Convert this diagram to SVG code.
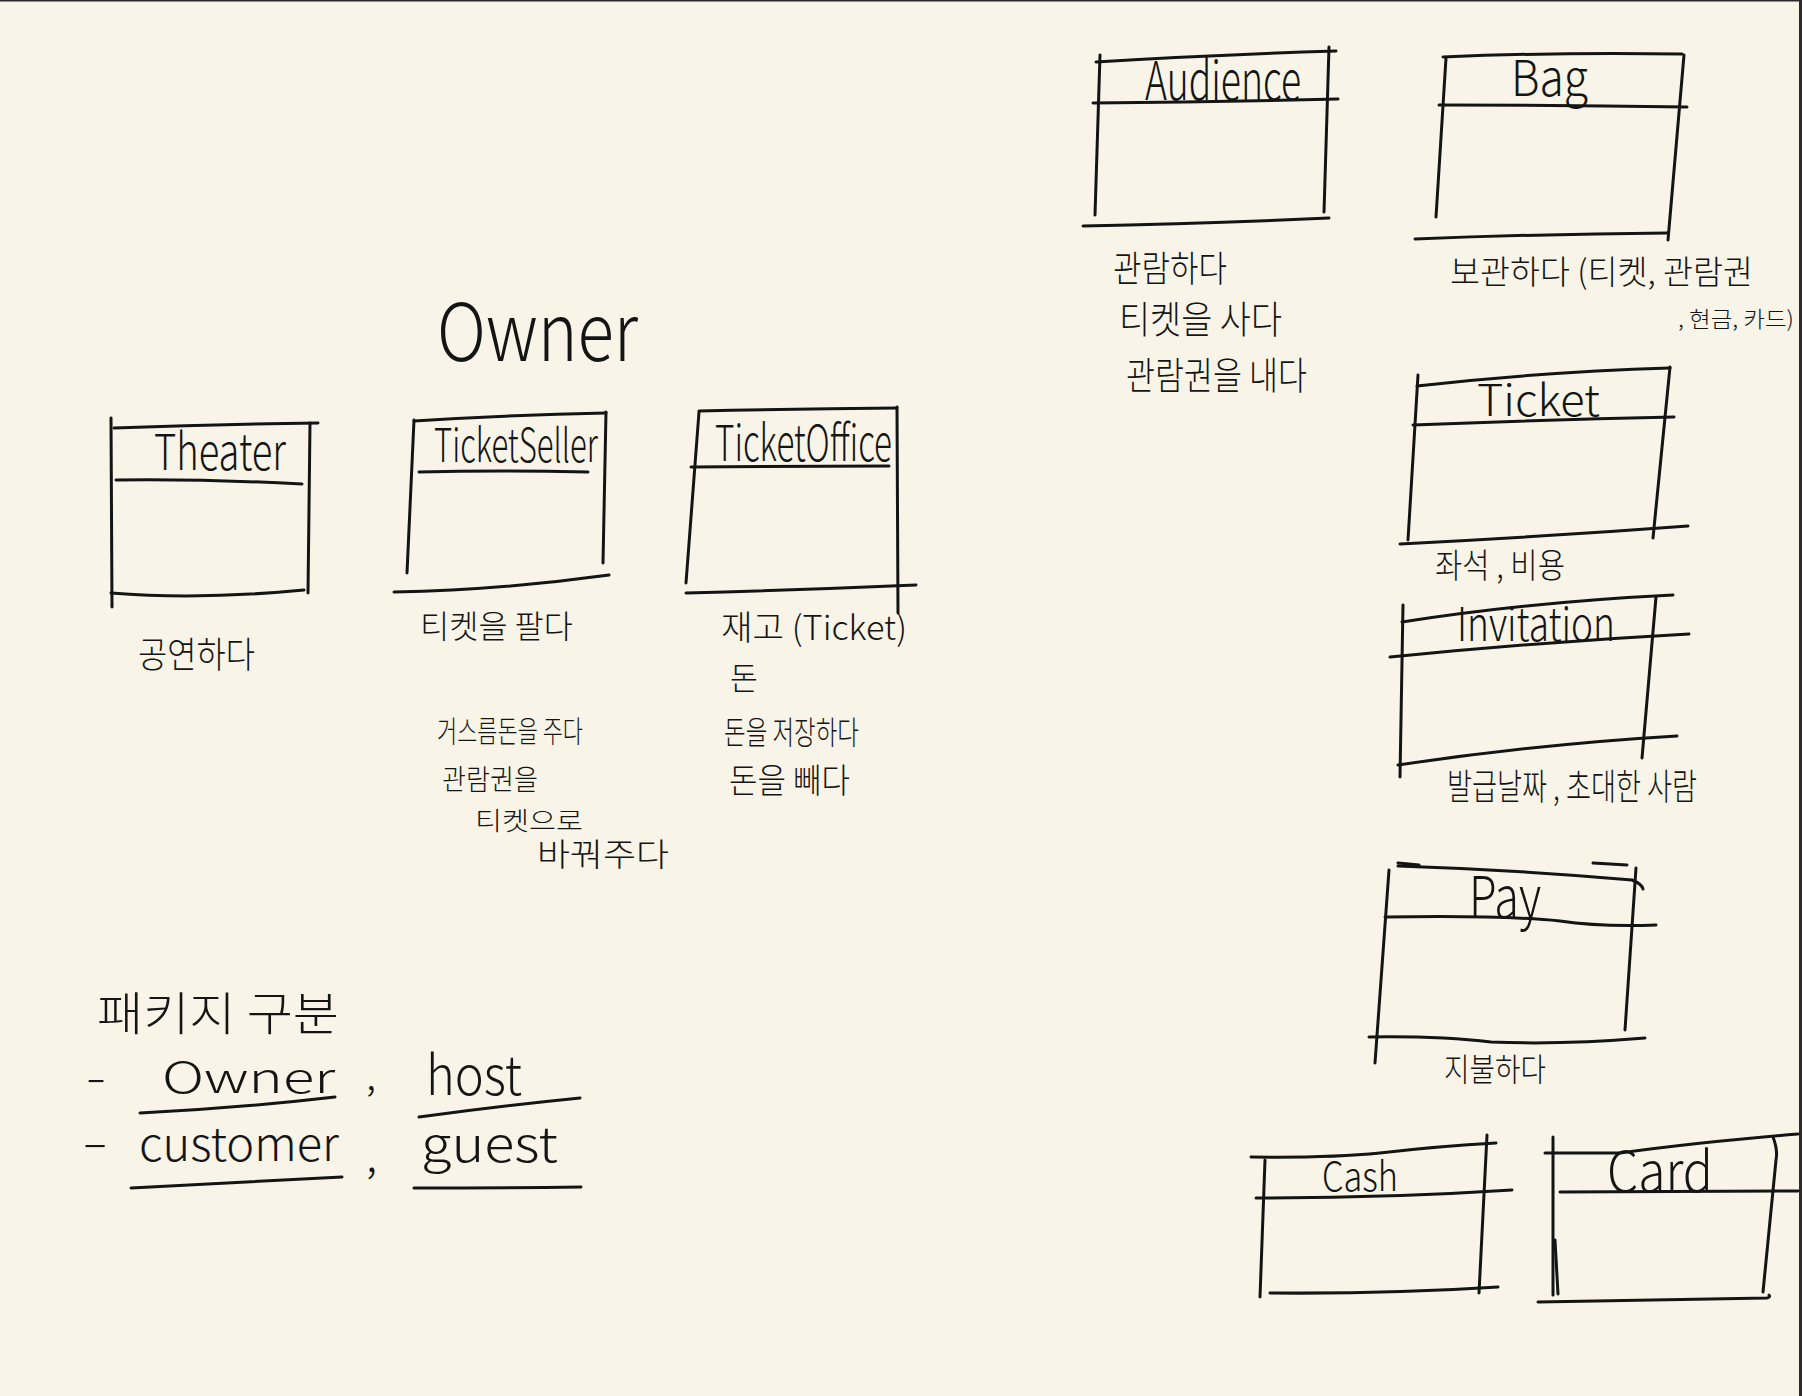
<svg xmlns="http://www.w3.org/2000/svg" width="1802" height="1396" viewBox="0 0 1802 1396">
<style>
.ln{fill:none;stroke:#141414;stroke-width:3;stroke-linecap:round;stroke-linejoin:round}
.t{font-family:"Noto Sans CJK KR","Noto Sans",sans-serif;font-weight:300;fill:#141414}
</style>
<rect x="0" y="0" width="1802" height="1396" fill="#f8f5e8"/>
<rect x="0" y="0" width="1802" height="1.5" fill="#2a2a2a"/>
<rect x="1799" y="0" width="3" height="1396" fill="#2a2a2a"/>

<text class="t" x="437" y="361" font-size="80" textLength="201" lengthAdjust="spacingAndGlyphs">Owner</text>

<g id="theater">
<path class="ln" d="M111 418 L112 607"/>
<path class="ln" d="M114 428 Q215 424 318 423"/>
<path class="ln" d="M310 423 L308 593"/>
<path class="ln" d="M116 480 Q210 479 302 484"/>
<path class="ln" d="M111 593 Q200 600 304 590"/>
<text class="t" x="154" y="470" font-size="50" textLength="132" lengthAdjust="spacingAndGlyphs">Theater</text>
<text class="t" x="138" y="668" font-size="36" textLength="117" lengthAdjust="spacingAndGlyphs">공연하다</text>
</g>

<g id="ticketseller">
<path class="ln" d="M414 420 L407 573"/>
<path class="ln" d="M414 421 Q510 415 606 413"/>
<path class="ln" d="M606 412 L603 563"/>
<path class="ln" d="M419 472 Q500 470 588 472"/>
<path class="ln" d="M394 592 Q500 590 609 575"/>
<text class="t" x="434" y="462" font-size="46" textLength="164" lengthAdjust="spacingAndGlyphs">TicketSeller</text>
<text class="t" x="420" y="638" font-size="32" textLength="153" lengthAdjust="spacingAndGlyphs">티켓을 팔다</text>
<text class="t" x="437" y="742" font-size="30" textLength="146" lengthAdjust="spacingAndGlyphs">거스름돈을 주다</text>
<text class="t" x="442" y="790" font-size="28" textLength="96" lengthAdjust="spacingAndGlyphs">관람권을</text>
<text class="t" x="475" y="830" font-size="25" textLength="108" lengthAdjust="spacingAndGlyphs">티켓으로</text>
<text class="t" x="537" y="866" font-size="32" textLength="132" lengthAdjust="spacingAndGlyphs">바꿔주다</text>
</g>

<g id="ticketoffice">
<path class="ln" d="M699 412 L686 583"/>
<path class="ln" d="M699 411 Q800 409 897 408"/>
<path class="ln" d="M897 407 L898 613"/>
<path class="ln" d="M691 467 Q790 466 889 466"/>
<path class="ln" d="M686 593 Q800 590 916 585"/>
<text class="t" x="715" y="461" font-size="50" textLength="177" lengthAdjust="spacingAndGlyphs">TicketOffice</text>
<text class="t" x="721" y="640" font-size="34" textLength="186" lengthAdjust="spacingAndGlyphs">재고 (Ticket)</text>
<text class="t" x="730" y="690" font-size="32" textLength="28" lengthAdjust="spacingAndGlyphs">돈</text>
<text class="t" x="724" y="744" font-size="32" textLength="135" lengthAdjust="spacingAndGlyphs">돈을 저장하다</text>
<text class="t" x="729" y="793" font-size="34" textLength="121" lengthAdjust="spacingAndGlyphs">돈을 빼다</text>
</g>

<g id="audience">
<path class="ln" d="M1100 55 L1095 215"/>
<path class="ln" d="M1096 62 Q1210 55 1336 51"/>
<path class="ln" d="M1329 47 L1324 212"/>
<path class="ln" d="M1093 103 Q1220 102 1338 99"/>
<path class="ln" d="M1083 226 Q1200 224 1329 218"/>
<text class="t" x="1145" y="100" font-size="54" textLength="156" lengthAdjust="spacingAndGlyphs">Audience</text>
<text class="t" x="1113" y="282" font-size="36" textLength="114" lengthAdjust="spacingAndGlyphs">관람하다</text>
<text class="t" x="1119" y="333" font-size="38" textLength="163" lengthAdjust="spacingAndGlyphs">티켓을 사다</text>
<text class="t" x="1126" y="389" font-size="38" textLength="181" lengthAdjust="spacingAndGlyphs">관람권을 내다</text>
</g>

<g id="bag">
<path class="ln" d="M1446 58 L1436 217"/>
<path class="ln" d="M1443 57 Q1560 52 1682 54"/>
<path class="ln" d="M1684 55 L1668 240"/>
<path class="ln" d="M1439 105 Q1560 105 1687 107"/>
<path class="ln" d="M1415 239 Q1540 234 1668 233"/>
<text class="t" x="1511" y="96" font-size="50" textLength="77" lengthAdjust="spacingAndGlyphs">Bag</text>
<text class="t" x="1450" y="284" font-size="33" textLength="303" lengthAdjust="spacingAndGlyphs">보관하다 (티켓, 관람권</text>
<text class="t" x="1678" y="327" font-size="22" textLength="116" lengthAdjust="spacingAndGlyphs">, 현금, 카드)</text>
</g>

<g id="ticket">
<path class="ln" d="M1418 375 L1408 540"/>
<path class="ln" d="M1417 386 Q1540 372 1670 368"/>
<path class="ln" d="M1670 367 L1653 538"/>
<path class="ln" d="M1413 425 Q1540 420 1674 417"/>
<path class="ln" d="M1400 544 Q1540 537 1688 526"/>
<text class="t" x="1477" y="416" font-size="44" textLength="123" lengthAdjust="spacingAndGlyphs">Ticket</text>
<text class="t" x="1435" y="578" font-size="34" textLength="130" lengthAdjust="spacingAndGlyphs">좌석 , 비용</text>
</g>

<g id="invitation">
<path class="ln" d="M1403 605 L1400 777"/>
<path class="ln" d="M1402 622 Q1530 602 1673 595"/>
<path class="ln" d="M1656 597 L1642 758"/>
<path class="ln" d="M1390 657 Q1540 642 1689 634"/>
<path class="ln" d="M1398 765 Q1540 744 1677 736"/>
<text class="t" x="1457" y="641" font-size="46" textLength="158" lengthAdjust="spacingAndGlyphs">Invitation</text>
<text class="t" x="1447" y="800" font-size="36" textLength="250" lengthAdjust="spacingAndGlyphs">발급날짜 , 초대한 사람</text>
</g>

<g id="pay">
<path class="ln" d="M1398 863 L1419 865"/>
<path class="ln" d="M1593 863 L1627 865"/>
<path class="ln" d="M1398 866 Q1520 870 1632 880 Q1642 884 1643 889"/>
<path class="ln" d="M1389 870 L1375 1063"/>
<path class="ln" d="M1636 868 L1625 1030"/>
<path class="ln" d="M1385 917 Q1500 915 1560 921 Q1600 927 1656 925"/>
<path class="ln" d="M1369 1037 Q1440 1036 1491 1042 Q1560 1045 1645 1038"/>
<text class="t" x="1469" y="918" font-size="58" textLength="72" lengthAdjust="spacingAndGlyphs">Pay</text>
<text class="t" x="1444" y="1081" font-size="32" textLength="102" lengthAdjust="spacingAndGlyphs">지불하다</text>
</g>

<g id="cash">
<path class="ln" d="M1251 1157 Q1330 1158 1380 1153 Q1440 1146 1496 1143"/>
<path class="ln" d="M1265 1160 L1260 1297"/>
<path class="ln" d="M1487 1135 L1479 1293"/>
<path class="ln" d="M1256 1198 Q1390 1198 1512 1190"/>
<path class="ln" d="M1270 1293 Q1390 1294 1498 1287"/>
<text class="t" x="1322" y="1191" font-size="40" textLength="76" lengthAdjust="spacingAndGlyphs">Cash</text>
</g>

<g id="card">
<path class="ln" d="M1553 1137 L1553 1295"/>
<path class="ln" d="M1555 1240 L1558 1294"/>
<path class="ln" d="M1545 1153 L1620 1153 Q1700 1142 1798 1134"/>
<path class="ln" d="M1773 1137 Q1778 1150 1776 1160 L1763 1292"/>
<path class="ln" d="M1560 1192 Q1680 1192 1798 1191"/>
<path class="ln" d="M1538 1302 Q1650 1300 1767 1298 Q1771 1297 1769 1295"/>
<text class="t" x="1607" y="1192" font-size="56" textLength="106" lengthAdjust="spacingAndGlyphs">Card</text>
</g>

<g id="package-note">
<text class="t" x="97" y="1030" font-size="46" textLength="242" lengthAdjust="spacingAndGlyphs">패키지 구분</text>
<text class="t" x="86" y="1093" font-size="42" textLength="20" lengthAdjust="spacingAndGlyphs">-</text>
<text class="t" x="162" y="1093" font-size="42" textLength="173" lengthAdjust="spacingAndGlyphs">Owner</text>
<text class="t" x="366" y="1090" font-size="40">,</text>
<text class="t" x="426" y="1095" font-size="54" textLength="96" lengthAdjust="spacingAndGlyphs">host</text>
<path class="ln" d="M140 1113 Q240 1108 335 1097"/>
<path class="ln" d="M419 1117 Q500 1106 580 1098"/>
<text class="t" x="82" y="1158" font-size="42" textLength="26" lengthAdjust="spacingAndGlyphs">-</text>
<text class="t" x="139" y="1161" font-size="46" textLength="200" lengthAdjust="spacingAndGlyphs">customer</text>
<text class="t" x="366" y="1172" font-size="44">,</text>
<text class="t" x="421" y="1162" font-size="48" textLength="137" lengthAdjust="spacingAndGlyphs">guest</text>
<path class="ln" d="M131 1188 Q240 1182 342 1177"/>
<path class="ln" d="M414 1188 Q500 1188 581 1187"/>
</g>

<g id="connectors"></g>
</svg>
